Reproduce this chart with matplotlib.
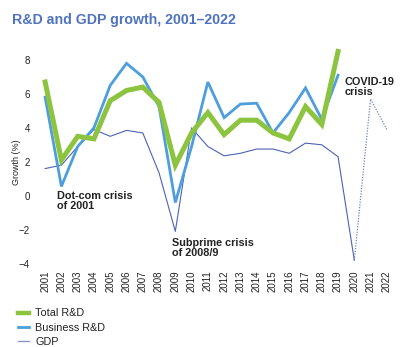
import numpy as np
import matplotlib
matplotlib.use("Agg")
import matplotlib.pyplot as plt

plt.rcParams["font.family"] = ["Liberation Sans", "DejaVu Sans"]

years = list(range(2001, 2023))

total_rd = [6.7, 2.1, 3.5, 3.35, 5.6, 6.2, 6.4, 5.5, 1.8, 3.7, 4.9,
            3.6, 4.45, 4.45, 3.7, 3.35, 5.25, 4.2, 8.5]
business_rd = [5.8, 0.55, 2.9, 4.0, 6.5, 7.8, 7.0, 5.25, -0.4, 2.9, 6.7,
               4.6, 5.4, 5.45, 3.7, 4.9, 6.35, 4.5, 7.1]
gdp = [1.6, 1.8, 2.9, 3.9, 3.5, 3.85, 3.7, 1.35, -2.1, 4.0, 2.9,
       2.35, 2.5, 2.75, 2.75, 2.5, 3.1, 3.0, 2.3, -3.8]
gdp_forecast = [-3.8, 5.7, 3.9]  # 2020 onward, dotted

GREEN = "#8dc43f"
BLUE = "#4c9fdc"
GDP_C = "#4d62b3"
TEXT = "#222222"

fig = plt.figure(figsize=(4.0, 3.47), dpi=100)
ax = fig.add_axes([0.0925, 0.2305, 0.895, 0.631])

ax.plot(years[:len(gdp)], gdp, color=GDP_C, lw=0.8, zorder=2)
ax.plot(years[19:19 + len(gdp_forecast)], gdp_forecast, color=GDP_C,
        lw=0.9, ls=(0, (1, 1.2)), alpha=0.8, zorder=2)
ax.plot(years[:len(business_rd)], business_rd, color=BLUE, lw=2.0,
        solid_joinstyle="miter", zorder=3)
ax.plot(years[:len(total_rd)], total_rd, color=GREEN, lw=3.6,
        solid_joinstyle="miter", zorder=4)

ax.set_xlim(2000.5, 2022.5)
ax.set_ylim(-4.2, 8.7)
ax.set_yticks([-4, -2, 0, 2, 4, 6, 8])
ax.set_yticklabels(["\u22124", "\u22122", "0", "2", "4", "6", "8"])
ax.set_xticks(years)
ax.set_xticklabels([str(y) for y in years], rotation=90)
ax.tick_params(axis="both", length=0, labelsize=7, colors=TEXT)
ax.tick_params(axis="y", pad=5)
ax.tick_params(axis="x", pad=2.5)
for s in ax.spines.values():
    s.set_visible(False)
ax.set_ylabel("Growth (%)", fontsize=6.5, color=TEXT)
ax.yaxis.set_label_coords(-0.045, 0.48)

ann = dict(fontsize=7.8, fontweight="bold", color=TEXT, linespacing=1.0,
           va="top", ha="left")
ax.text(2001.7, 0.3, "Dot-com crisis\nof 2001", **ann)
ax.text(2008.8, -2.5, "Subprime crisis\nof 2008/9", **ann)
ax.text(2019.4, 7.0, "COVID-19\ncrisis", clip_on=False, **ann)

fig.text(0.03, 0.962, "R&D and GDP growth, 2001\u20132022", fontsize=10.2,
         fontweight="bold", color="#4f74bd", va="top", ha="left")

h1, = ax.plot([], [], color=GREEN, lw=3.2)
h2, = ax.plot([], [], color=BLUE, lw=2.0)
h3, = ax.plot([], [], color="#8a97cf", lw=1.0)
fig.legend([h1, h2, h3], ["Total R&D", "Business R&D", "GDP"],
           loc="lower left", bbox_to_anchor=(0.02, -0.028), frameon=False,
           fontsize=7.8, handlelength=1.0, handletextpad=0.6,
           labelspacing=0.4, labelcolor=TEXT)

fig.savefig("out.png", dpi=100)
